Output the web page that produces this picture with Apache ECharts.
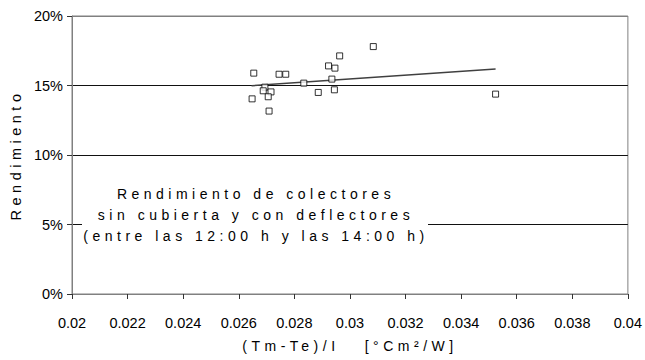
<!DOCTYPE html>
<html>
<head>
<meta charset="utf-8">
<script src="https://cdn.jsdelivr.net/npm/echarts@6/dist/echarts.min.js"></script>
<style>
html,body{margin:0;padding:0;background:#fff;}
#chart{width:645px;height:360px;}
svg [fill="#010101"], svg [fill="rgb(1,1,1)"], svg [fill="rgb(1, 1, 1)"] { letter-spacing: 4.5px; }
</style>
</head>
<body>
<div id="chart"></div>
<script>
// Data
const xValues = [0.02654, 0.02745, 0.02769, 0.02923, 0.02946, 0.02963, 0.03084, 0.02694, 0.02688, 0.02716, 0.02706, 0.02648, 0.02709, 0.02834, 0.02935, 0.02886, 0.02944, 0.03524];
const yValues = [15.89, 15.81, 15.81, 16.41, 16.25, 17.13, 17.80, 14.88, 14.62, 14.54, 14.19, 14.04, 13.16, 15.17, 15.46, 14.50, 14.69, 14.38];
const trendX = [0.02646, 0.03524];
const trendY = [14.98, 16.19];
const xTickLabels = ['0.02','0.022','0.024','0.026','0.028','0.03','0.032','0.034','0.036','0.038','0.04'];
const yTickLabels = ['0%','5%','10%','15%','20%'];
const xTitle = '(Tm-Te)/I\u00a0\u00a0\u00a0[°Cm²/W]';
const yTitle = 'Rendimiento';
const noteLines = ['Rendimiento de colectores', 'sin cubierta y con deflectores', '(entre las 12:00 h y las 14:00 h)'];

const FONT = "'Liberation Sans', Arial, sans-serif";
const scatterData = xValues.map((x, i) => [x, yValues[i]]);
const trendData = trendX.map((x, i) => [x, trendY[i]]);

const chart = echarts.init(document.getElementById('chart'), null, {renderer: 'svg'});
chart.setOption({
  animation: false,
  backgroundColor: '#fff',
  grid: {left: 72, right: 15, top: 16, bottom: 66, show: true, borderColor: '#808080', borderWidth: 1},
  xAxis: {
    type: 'value', min: 0.02, max: 0.04, interval: 0.002,
    name: xTitle, nameLocation: 'middle', nameGap: 45,
    nameTextStyle: {color: '#010101', fontSize: 14, fontFamily: FONT},
    axisLine: {show: true, lineStyle: {color: '#808080', width: 1}},
    axisTick: {show: true, length: 5, lineStyle: {color: '#333'}},
    axisLabel: {margin: 21, color: '#000', fontSize: 14.5, fontFamily: FONT,
      formatter: (v) => { const i = Math.round((v - 0.02) / 0.002); return xTickLabels[i] || ''; }},
    splitLine: {show: false}
  },
  yAxis: {
    type: 'value', min: 0, max: 20, interval: 5,
    name: yTitle, nameLocation: 'middle', nameGap: 47,
    nameTextStyle: {color: '#010101', fontSize: 14.5, fontFamily: FONT},
    axisLine: {show: true, lineStyle: {color: '#808080', width: 1}},
    axisTick: {show: true, length: 5, lineStyle: {color: '#333'}},
    axisLabel: {margin: 9, color: '#000', fontSize: 14.5, fontFamily: FONT,
      formatter: (v) => yTickLabels[Math.round(v / 5)] || ''},
    splitLine: {show: true, lineStyle: {color: ['#808080', '#111', '#111', '#111', '#808080'], width: 1}}
  },
  graphic: [
    {type: 'rect', z: 50, shape: {x: 82, y: 182, width: 346, height: 64}, style: {fill: '#fff'}},
    {type: 'text', z: 51, x: 256, y: 215,
      style: {text: noteLines.join('\n'), fill: '#010101', font: '14px ' + FONT,
        textAlign: 'center', textVerticalAlign: 'middle', lineHeight: 21}}
  ],
  series: [
    {type: 'line', data: trendData, symbol: 'none', z: 2,
      lineStyle: {color: '#404040', width: 1.5}},
    {type: 'scatter', data: scatterData, symbol: 'rect', symbolSize: 6, z: 3,
      itemStyle: {color: '#fff', borderColor: '#000', borderWidth: 1}}
  ]
});
</script>
</body>
</html>
